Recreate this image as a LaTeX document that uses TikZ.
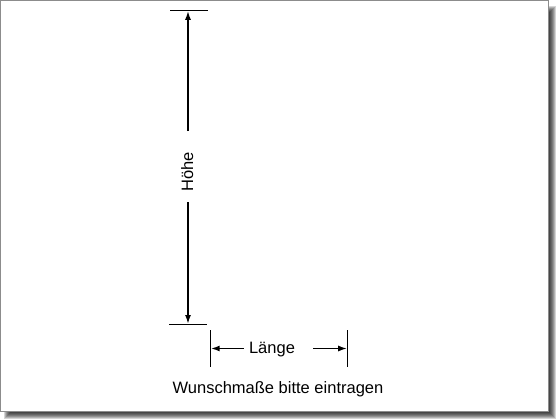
\documentclass[tikz,border=0pt]{standalone}
\usepackage{fontspec}
\setmainfont{Liberation Sans}
\usetikzlibrary{arrows.meta}

\begin{document}
\begin{tikzpicture}[x=1pt,y=-1pt,
  dimarrow/.style={line width=1.7pt,-{Latex[length=9pt,width=6pt]}},
  dimtick/.style={line width=0.9pt},
  lbl/.style={font=\fontsize{16.5}{19}\selectfont,inner sep=0pt,anchor=base}]%
\useasboundingbox (0,0) rectangle (560,420);%
\foreach \d in {1,...,7}
  \fill[black,opacity=0.17] (3+\d,5+\d) rectangle (557-\d,420-\d);%
\filldraw[fill=white,draw=black!45,line width=1pt] (0.5,0.5) rectangle (548.5,411.5);%
\draw[dimtick] (170,10.3) -- (208,10.3);%
\draw[dimtick] (169,324.5) -- (207,324.5);%
\draw[dimtick] (210.7,330) -- (210.7,367);%
\draw[dimtick] (347.7,330) -- (347.7,367);%
\coordinate (hoeheTop) at (188,10.8);%
\coordinate (hoeheBot) at (188,324);%
\coordinate (hoeheA) at (188,131);%
\coordinate (hoeheB) at (188,202);%
\coordinate (laengeL) at (210.7,348.5);%
\coordinate (laengeR) at (347.2,348.5);%
\node[lbl,rotate=90] (hoehe) at (193,172) {Höhe};%
\node[lbl] (laenge) at (272,353.5) {Länge};%
\node[lbl] (hinweis) at (278,393.5) {Wunschmaße bitte eintragen};%
\draw[dimarrow] (hoeheA) -- (hoeheTop);%
\draw[dimarrow] (hoeheB) -- (hoeheBot);%
\draw[dimarrow] ([xshift=-5pt]laenge.west |- laengeL) -- (laengeL);%
\draw[dimarrow] ([xshift=18pt]laenge.east |- laengeR) -- (laengeR);%
\end{tikzpicture}
\end{document}
